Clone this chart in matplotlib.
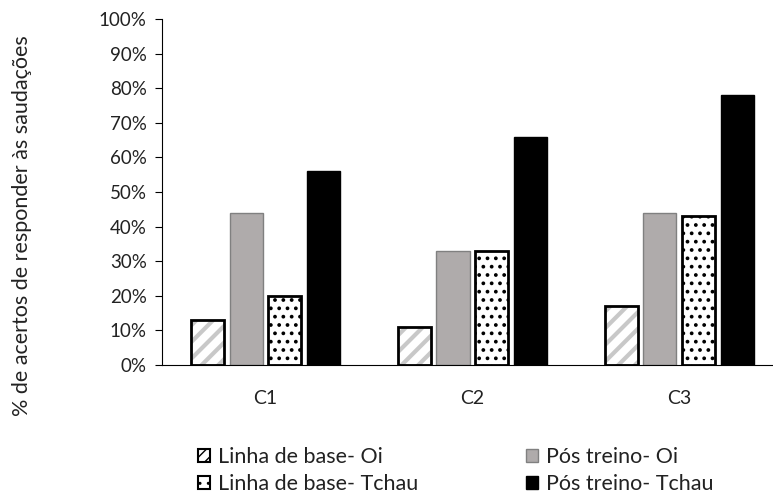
import numpy as np
import matplotlib as mpl
import matplotlib.pyplot as plt
from matplotlib.patches import Patch

plt.rcParams['font.family'] = ['Lato', 'DejaVu Sans']

categories = ['C1', 'C2', 'C3']
base_oi = [13, 11, 17]
pos_oi = [44, 33, 44]
base_tchau = [20, 33, 43]
pos_tchau = [56, 66, 78]
series_names = ['Linha de base- Oi', 'Pós treino- Oi',
                'Linha de base- Tchau', 'Pós treino- Tchau']

txt = '#222222'
fig = plt.figure(figsize=(7.73, 5.0), dpi=100)
# x axis runs past the right edge of the picture, as in the original
ax = fig.add_axes([0.2096, 0.27, 0.803, 0.692])

x = np.arange(len(categories))
w = 0.16
step = 0.187
offs = [-1.5 * step, -0.5 * step, 0.5 * step, 1.5 * step]

# hatched bar: wide light gray stripes, then black outline on top
with mpl.rc_context({'hatch.linewidth': 3.0}):
    ax.bar(x + offs[0], base_oi, w, color='white', edgecolor='#c8c8c8',
           hatch='//', linewidth=0)
ax.bar(x + offs[0], base_oi, w, fill=False, edgecolor='black', linewidth=2)
ax.bar(x + offs[1], pos_oi, w, color='#afabab', edgecolor='#808080', linewidth=1)
with mpl.rc_context({'hatch.linewidth': 1.5}):
    ax.bar(x + offs[2], base_tchau, w, color='white', edgecolor='black',
           hatch='..', linewidth=0)
ax.bar(x + offs[2], base_tchau, w, fill=False, edgecolor='black', linewidth=2)
ax.bar(x + offs[3], pos_tchau, w, color='black', edgecolor='black', linewidth=1)

ax.set_xlim(-0.5, 2.5)
ax.set_ylim(0, 100)
ax.set_yticks(np.arange(0, 101, 10))
ax.set_yticklabels(['%d%%' % v for v in range(0, 101, 10)], fontsize=13.5, color=txt)
ax.set_xticks(x)
ax.set_xticklabels(categories, fontsize=14, color=txt)
ax.tick_params(axis='x', length=0, pad=18)
ax.tick_params(axis='y', length=5, direction='out', pad=6)
ax.spines['top'].set_visible(False)
ax.spines['right'].set_visible(False)

fig.text(0.028, 0.548, '% de acertos de responder às saudações', rotation=90,
         ha='center', va='center', fontsize=15.5, color=txt)

handles = [
    Patch(facecolor='white', edgecolor='black', hatch='///', linewidth=1.5),
    Patch(facecolor='#afabab', edgecolor='#808080'),
    Patch(facecolor='white', edgecolor='black', hatch='..', linewidth=1.5),
    Patch(facecolor='black', edgecolor='black'),
]
order = [0, 2, 1, 3]
fig.legend([handles[i] for i in order], [series_names[i] for i in order],
           loc='center left', bbox_to_anchor=(187 / 773, 1 - 470.5 / 500),
           ncol=2, frameon=False, fontsize=15.5, handlelength=0.56, handleheight=0.56,
           handletextpad=0.37, columnspacing=5.0, labelspacing=0.3, borderpad=0,
           labelcolor=txt)

fig.savefig('out.png', dpi=100)
